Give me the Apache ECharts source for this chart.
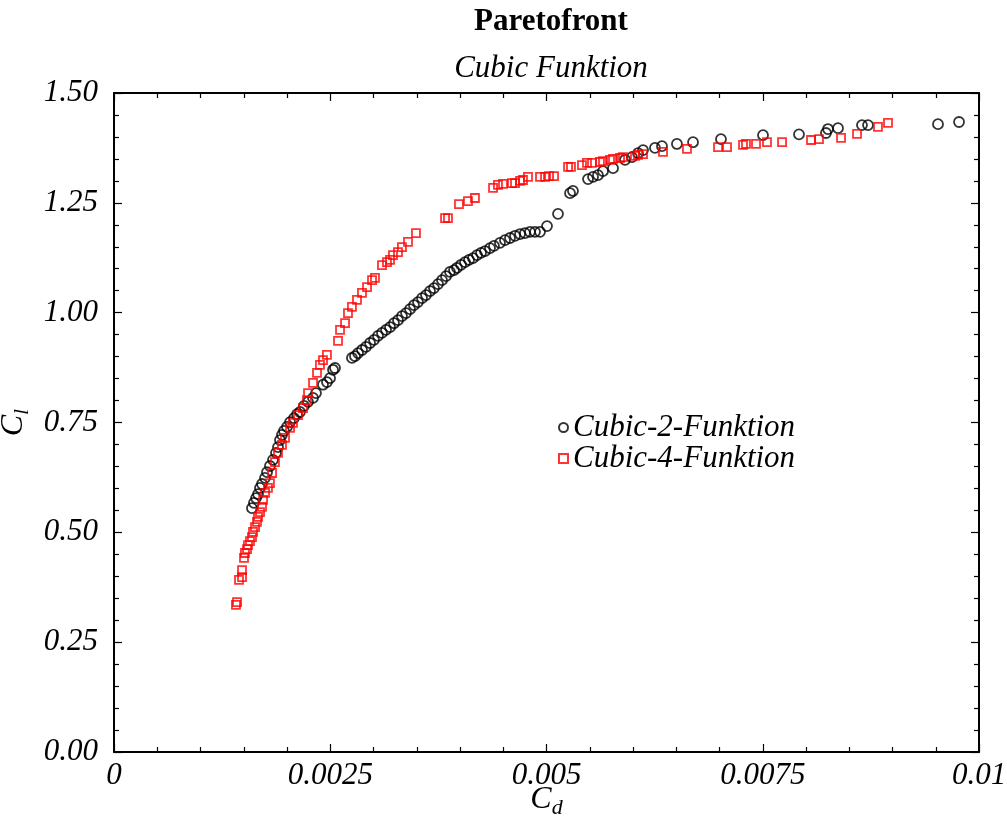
<!DOCTYPE html>
<html>
<head>
<meta charset="utf-8">
<script src="https://cdn.jsdelivr.net/npm/echarts@6/dist/echarts.min.js"></script>
<style>
  html, body { margin: 0; padding: 0; background: #fff; }
  #chart { width: 1007px; height: 824px; }
</style>
</head>
<body>
<div id="chart"></div>
<script>
// Cubic-2-Funktion (Cd, Cl)
const cubic2 = [
  [0.001595, 0.555], [0.001618, 0.567], [0.001642, 0.578], [0.001665, 0.587], [0.001688, 0.601],
  [0.001711, 0.610], [0.001746, 0.624], [0.001769, 0.637], [0.001803, 0.651], [0.001838, 0.665],
  [0.001873, 0.681], [0.001896, 0.694], [0.001919, 0.710], [0.001942, 0.722], [0.001965, 0.731],
  [0.002000, 0.740], [0.002035, 0.751], [0.002081, 0.760], [0.002116, 0.769], [0.002150, 0.774],
  [0.002197, 0.788], [0.002243, 0.797], [0.002301, 0.806], [0.002335, 0.817], [0.002416, 0.836],
  [0.002462, 0.842], [0.002497, 0.851], [0.002532, 0.870], [0.002555, 0.874],
  [0.002751, 0.897], [0.002786, 0.901], [0.002821, 0.908], [0.002867, 0.915], [0.002913, 0.922],
  [0.002960, 0.931], [0.003006, 0.938], [0.003052, 0.947], [0.003098, 0.954], [0.003145, 0.961],
  [0.003191, 0.967], [0.003237, 0.976], [0.003283, 0.983], [0.003329, 0.992], [0.003376, 0.999],
  [0.003422, 1.008], [0.003468, 1.017], [0.003514, 1.024], [0.003561, 1.033], [0.003607, 1.040],
  [0.003653, 1.049], [0.003699, 1.056], [0.003746, 1.065], [0.003792, 1.074], [0.003838, 1.083],
  [0.003884, 1.093], [0.003931, 1.097], [0.003965, 1.102], [0.004012, 1.109], [0.004058, 1.115],
  [0.004104, 1.120], [0.004150, 1.124], [0.004197, 1.131], [0.004243, 1.136], [0.004289, 1.140],
  [0.004347, 1.147], [0.004393, 1.152], [0.004462, 1.159], [0.004520, 1.165], [0.004578, 1.170],
  [0.004636, 1.175], [0.004694, 1.179], [0.004751, 1.181], [0.004809, 1.184], [0.004867, 1.184],
  [0.004925, 1.184], [0.005006, 1.197], [0.005133, 1.225], [0.005272, 1.272], [0.005306, 1.277],
  [0.005480, 1.304], [0.005538, 1.309], [0.005595, 1.313], [0.005653, 1.322], [0.005769, 1.329],
  [0.005908, 1.348], [0.005988, 1.354], [0.006058, 1.363], [0.006116, 1.370], [0.006254, 1.375],
  [0.006335, 1.379], [0.006508, 1.384], [0.006694, 1.388], [0.007017, 1.395], [0.007503, 1.404],
  [0.007919, 1.406], [0.008231, 1.409], [0.008254, 1.418], [0.008370, 1.420], [0.008647, 1.427],
  [0.008717, 1.427], [0.009526, 1.429], [0.009769, 1.434]
];

// Cubic-4-Funktion (Cd, Cl)
const cubic4 = [
  [0.001410, 0.335], [0.001422, 0.341], [0.001445, 0.392], [0.001480, 0.398], [0.001480, 0.414],
  [0.001503, 0.442], [0.001514, 0.453], [0.001538, 0.462], [0.001549, 0.471], [0.001572, 0.480],
  [0.001595, 0.489], [0.001607, 0.501], [0.001630, 0.512], [0.001653, 0.524], [0.001665, 0.535],
  [0.001688, 0.546], [0.001711, 0.558], [0.001723, 0.574], [0.001746, 0.590], [0.001780, 0.601],
  [0.001803, 0.612], [0.001827, 0.635], [0.001861, 0.660], [0.001896, 0.681], [0.001942, 0.699],
  [0.001977, 0.715], [0.002035, 0.738], [0.002069, 0.749], [0.002127, 0.767], [0.002185, 0.783],
  [0.002231, 0.801], [0.002243, 0.817], [0.002301, 0.840], [0.002347, 0.863], [0.002381, 0.881],
  [0.002416, 0.892], [0.002462, 0.904], [0.002590, 0.936], [0.002613, 0.961], [0.002671, 0.976],
  [0.002705, 0.999], [0.002751, 1.013], [0.002809, 1.029], [0.002867, 1.045], [0.002925, 1.058],
  [0.002983, 1.074], [0.003017, 1.079], [0.003098, 1.108], [0.003156, 1.115], [0.003191, 1.120],
  [0.003225, 1.131], [0.003283, 1.138], [0.003329, 1.149], [0.003399, 1.161], [0.003491, 1.181],
  [0.003827, 1.215], [0.003861, 1.215], [0.003988, 1.247], [0.004092, 1.254], [0.004173, 1.261],
  [0.004382, 1.284], [0.004439, 1.291], [0.004497, 1.293], [0.004601, 1.295], [0.004636, 1.295],
  [0.004694, 1.300], [0.004728, 1.302], [0.004786, 1.309], [0.004925, 1.309], [0.004983, 1.309],
  [0.005029, 1.311], [0.005087, 1.311], [0.005249, 1.332], [0.005283, 1.332], [0.005410, 1.336],
  [0.005468, 1.341], [0.005526, 1.341], [0.005618, 1.343], [0.005653, 1.345], [0.005734, 1.348],
  [0.005769, 1.350], [0.005850, 1.352], [0.005884, 1.354], [0.006023, 1.357], [0.006058, 1.359],
  [0.006116, 1.361], [0.006347, 1.366], [0.006624, 1.373], [0.006983, 1.377], [0.007087, 1.377],
  [0.007272, 1.382], [0.007306, 1.384], [0.007422, 1.384], [0.007549, 1.388], [0.007723, 1.388],
  [0.008058, 1.393], [0.008150, 1.395], [0.008405, 1.398], [0.008590, 1.407], [0.008832, 1.423],
  [0.008948, 1.432]
];

const xTickLabels = ['0', '0.0025', '0.005', '0.0075', '0.01'];
const yTickLabels = ['0.00', '0.25', '0.50', '0.75', '1.00', '1.25', '1.50'];

const serif = '"Liberation Serif", "DejaVu Serif", serif';

function frameAxis(extra) {
  return Object.assign({
    type: 'value',
    axisLine: { show: true, onZero: false, lineStyle: { color: '#000', width: 2 } },
    axisTick: { show: true, inside: true, length: 8, lineStyle: { color: '#000', width: 1.2 } },
    minorTick: { show: true, splitNumber: 5, length: 5, lineStyle: { color: '#000', width: 1.2 } },
    splitLine: { show: false },
  }, extra);
}

const nameRich = {
  a: { fontFamily: serif, fontStyle: 'italic', fontSize: 32, color: '#000' },
  b: { fontFamily: serif, fontStyle: 'italic', fontSize: 22, color: '#000', verticalAlign: 'bottom', padding: [16, 0, 0, 0] },
};

const chart = echarts.init(document.getElementById('chart'));
chart.setOption({
  animation: false,
  title: [
    {
      text: 'Paretofront',
      left: 546,
      top: 1,
      textAlign: 'center',
      textStyle: { fontFamily: serif, fontWeight: 'bold', fontSize: 31, color: '#000' },
    },
    {
      text: 'Cubic Funktion',
      left: 546,
      top: 48,
      textAlign: 'center',
      textStyle: { fontFamily: serif, fontStyle: 'italic', fontWeight: 'normal', fontSize: 31, color: '#000' },
    },
  ],
  legend: {
    orient: 'vertical',
    left: 553,
    top: 407,
    itemWidth: 9,
    itemHeight: 9,
    itemGap: 0,
    textStyle: { fontFamily: serif, fontStyle: 'italic', fontSize: 31, color: '#000' },
    data: [
      { name: 'Cubic-2-Funktion', icon: 'circle' },
      { name: 'Cubic-4-Funktion', icon: 'rect' },
    ],
  },
  grid: { left: 114, right: 28, top: 93, bottom: 72, outerBoundsMode: 'none' },
  xAxis: [
    frameAxis({
      min: 0, max: 0.01, interval: 0.0025, position: 'bottom',
      name: '{a|C}{b|d}',
      nameLocation: 'middle',
      nameMoveOverlap: false,
      nameGap: 29,
      nameTextStyle: { rich: nameRich },
      axisLabel: {
        margin: 8,
        fontFamily: serif, fontStyle: 'italic', fontSize: 31, color: '#000',
        formatter: (v) => xTickLabels[Math.round(v / 0.0025)],
      },
    }),
    frameAxis({ min: 0, max: 0.01, interval: 0.0025, position: 'top', axisLabel: { show: false } }),
  ],
  yAxis: [
    frameAxis({
      min: 0, max: 1.5, interval: 0.25, position: 'left',
      name: '{a|C}{b|l}',
      nameLocation: 'middle',
      nameGap: 78,
      nameRotate: 90,
      nameTextStyle: { rich: nameRich },
      axisLabel: {
        margin: 16,
        fontFamily: serif, fontStyle: 'italic', fontSize: 31, color: '#000',
        formatter: (v) => yTickLabels[Math.round(v / 0.25)],
      },
    }),
    frameAxis({ min: 0, max: 1.5, interval: 0.25, position: 'right', axisLabel: { show: false } }),
  ],
  series: [
    {
      name: 'Cubic-2-Funktion',
      type: 'scatter',
      symbol: 'circle',
      symbolSize: 10,
      itemStyle: { color: 'transparent', borderColor: '#000', borderWidth: 1.8 },
      data: cubic2,
    },
    {
      name: 'Cubic-4-Funktion',
      type: 'scatter',
      symbol: 'rect',
      symbolSize: 8,
      itemStyle: { color: 'transparent', borderColor: '#f00', borderWidth: 1.8 },
      data: cubic4,
    },
  ],
});
</script>
</body>
</html>
